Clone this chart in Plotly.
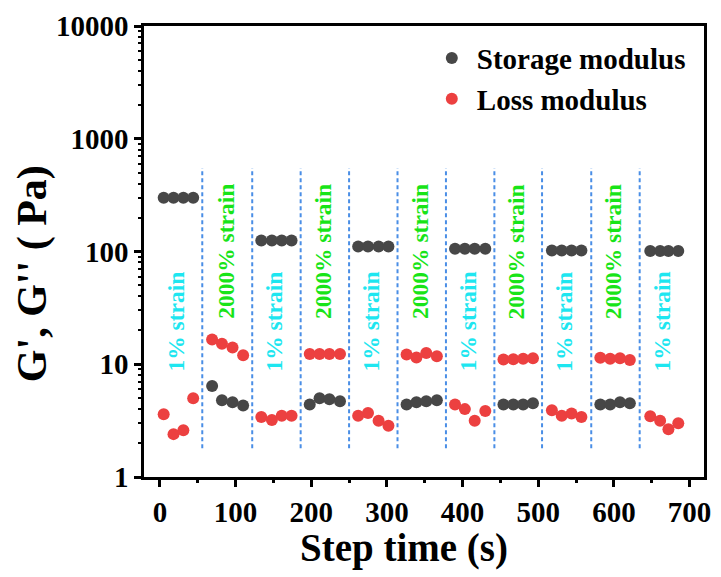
import plotly.graph_objects as go
import math

# ---- data ----
step_times = [
    [5, 18, 31, 44],
    [69, 82, 96, 110],
    [134, 148, 161, 174],
    [198, 211, 224, 238],
    [262, 275, 289, 302],
    [326, 339, 352, 366],
    [390, 403, 416, 430],
    [454, 467, 480, 493],
    [518, 531, 544, 557],
    [582, 595, 608, 621],
    [648, 661, 672, 685],
]
storage_modulus = [
    [300, 300, 300, 300],
    [6.4, 4.8, 4.6, 4.3],
    [125, 125, 125, 125],
    [4.4, 5.0, 4.9, 4.7],
    [111, 111, 111, 111],
    [4.4, 4.6, 4.7, 4.8],
    [106, 106, 106, 106],
    [4.4, 4.4, 4.4, 4.5],
    [102, 102, 102, 102],
    [4.4, 4.4, 4.6, 4.5],
    [101, 101, 101, 101],
]
loss_modulus = [
    [3.6, 2.4, 2.6, 5.0],
    [16.6, 15.2, 14.1, 12.0],
    [3.4, 3.2, 3.5, 3.5],
    [12.3, 12.3, 12.3, 12.3],
    [3.5, 3.7, 3.15, 2.85],
    [12.2, 11.5, 12.6, 11.8],
    [4.4, 4.0, 3.15, 3.85],
    [11.0, 11.1, 11.2, 11.3],
    [3.9, 3.5, 3.65, 3.4],
    [11.4, 11.2, 11.3, 10.9],
    [3.45, 3.15, 2.65, 3.0],
]
step_labels = ["1% strain", "2000% strain"] * 5 + ["1% strain"]
boundaries = [56, 122, 186, 250, 314, 378, 442, 505, 570, 634]
divider_range = [1.8, 550]
label_y = {"1% strain": 24, "2000% strain": 100}
label_color = {"1% strain": "#1ee6f0", "2000% strain": "#18e418"}
x_ticks = [0, 100, 200, 300, 400, 500, 600, 700]
y_ticks = [1, 10, 100, 1000, 10000]
x_title = "Step time (s)"
y_title = "G', G'' ( Pa)"

FONT = "Liberation Serif"

t_all = [t for seg in step_times for t in seg]
g1_all = [v for seg in storage_modulus for v in seg]
g2_all = [v for seg in loss_modulus for v in seg]

fig = go.Figure()

# dashed dividers
dx, dy = [], []
for b in boundaries:
    dx += [b, b, None]
    dy += [divider_range[0], divider_range[1], None]
fig.add_trace(go.Scatter(x=dx, y=dy, mode="lines", showlegend=False, hoverinfo="skip",
                         line=dict(color="#4a8ee6", width=2, dash="4px,3px")))

fig.add_trace(go.Scatter(x=t_all, y=g1_all, mode="markers", name="Storage modulus",
                         marker=dict(color="#474747", size=12)))
fig.add_trace(go.Scatter(x=t_all, y=g2_all, mode="markers", name="Loss modulus",
                         marker=dict(color="#ec4040", size=12)))

for seg, lab in zip(step_times, step_labels):
    cx = (seg[0] + seg[-1]) / 2 - 3
    fig.add_annotation(x=cx, y=math.log10(label_y[lab]), text=lab, textangle=-90,
                       showarrow=False, xanchor="center", yanchor="middle",
                       font=dict(family=FONT, size=23.5, color=label_color[lab], weight="bold"))

# axis titles
fig.add_annotation(xref="paper", yref="paper", x=-0.199, y=0.451, text=y_title,
                   textangle=-90, showarrow=False, xanchor="center", yanchor="middle",
                   font=dict(family=FONT, size=42, color="black", weight="bold"))
fig.add_annotation(xref="paper", yref="paper", x=0.464, y=-0.157, text=x_title,
                   showarrow=False, xanchor="center", yanchor="middle",
                   font=dict(family=FONT, size=39, color="black", weight="bold"))

axis_common = dict(showline=True, linecolor="black", linewidth=2.5, mirror=True,
                   showgrid=False, zeroline=False, ticks="outside", tickcolor="black",
                   tickwidth=2.5, ticklen=7,
                   tickfont=dict(family=FONT, size=29, color="black", weight="bold"))

fig.update_xaxes(range=[-21, 719], tickvals=x_ticks,
                 minor=dict(ticks="outside", dtick=50, tick0=0, ticklen=3, tickwidth=2.5,
                            tickcolor="black", showgrid=False),
                 **axis_common)
fig.update_yaxes(type="log", range=[0, 4], tickvals=y_ticks, ticktext=[str(v) for v in y_ticks],
                 minor=dict(ticks="outside", dtick="D1", ticklen=3, tickwidth=2,
                            tickcolor="black", showgrid=False),
                 **axis_common)

fig.update_layout(
    width=721, height=577,
    margin=dict(l=144, r=10, t=25, b=100),
    plot_bgcolor="white", paper_bgcolor="white",
    showlegend=True,
    legend=dict(x=0.505, y=0.985, xanchor="left", yanchor="top", bgcolor="rgba(0,0,0,0)",
                font=dict(family=FONT, size=29, color="black", weight="bold"),
                itemwidth=40, tracegroupgap=0),
)

fig.write_html("out.html")
